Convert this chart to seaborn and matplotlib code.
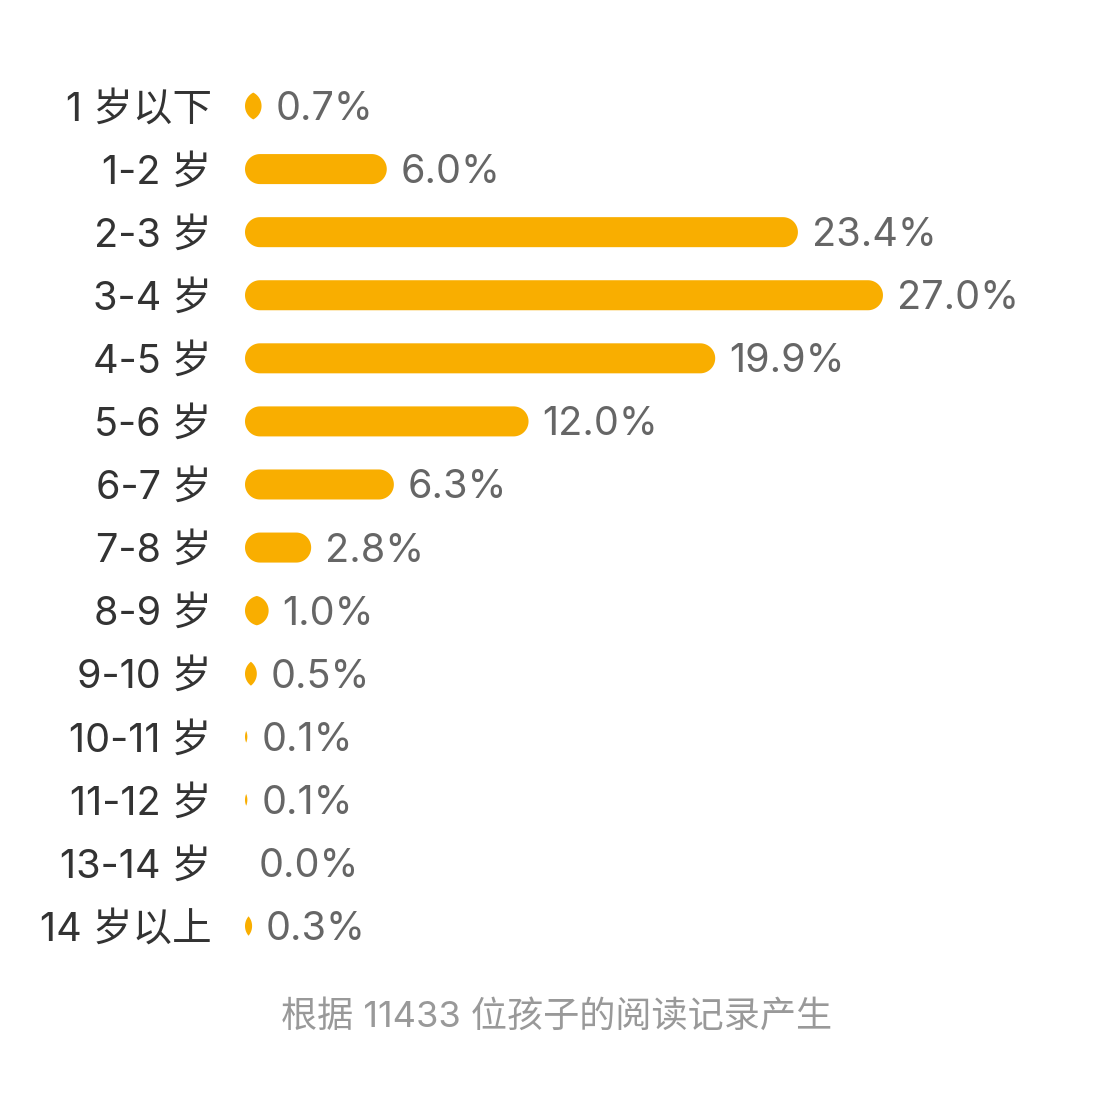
import numpy as np
import pandas as pd
import matplotlib
matplotlib.use("Agg")
import matplotlib.pyplot as plt
from matplotlib.patches import Polygon
import seaborn as sns

# data
age_groups = ['1 岁以下', '1-2 岁', '2-3 岁', '3-4 岁', '4-5 岁', '5-6 岁', '6-7 岁',
              '7-8 岁', '8-9 岁', '9-10 岁', '10-11 岁', '11-12 岁', '13-14 岁', '14 岁以上']
shares = [0.7, 6.0, 23.4, 27.0, 19.9, 12.0, 6.3, 2.8, 1.0, 0.5, 0.1, 0.1, 0.0, 0.3]
footer = '根据 11433 位孩子的阅读记录产生'

bar_color = '#F9AE00'
df = pd.DataFrame({'group': age_groups, 'share': shares})

sns.set_theme(style="white")
# latin glyphs from Inter, chinese falls through to Noto CJK
plt.rcParams['font.family'] = ['Inter', 'Noto Sans CJK SC', 'DejaVu Sans']

W, H = 1095, 1104
fig = plt.figure(figsize=(W / 100, H / 100), dpi=100)
fig.patch.set_facecolor('white')

xmax = 35
row_px = 63.08
ax = fig.add_axes([245 / W, (H - (106 + 13.5 * row_px)) / H, 827 / W, 14 * row_px / H])

sns.barplot(data=df, x='share', y='group', orient='h', color=bar_color,
            width=0.476, ax=ax)
ax.set_xlim(0, xmax)
ax.set_ylim(len(age_groups) - 0.5, -0.5)

# swap the square bars for rounded capsules (lens shape when very short)
sx = 827 / xmax          # pixels per x unit
r_px = 0.476 * row_px / 2
rx = r_px / sx
bars = list(ax.patches)
for p in bars:
    x0, y0, w, h = p.get_x(), p.get_y(), p.get_width(), p.get_height()
    p.remove()
    if w <= 0:
        continue
    yc = y0 + h / 2
    ry = abs(h) / 2
    theta = np.arccos(max(0.0, 1 - w / (2 * rx)))
    cl, cr = x0 + rx, x0 + w - rx
    t1 = np.linspace(-theta, theta, 40)
    t2 = np.linspace(np.pi - theta, np.pi + theta, 40)
    pts = np.concatenate([
        np.column_stack([cr + rx * np.cos(t1), yc + ry * np.sin(t1)]),
        np.column_stack([cl + rx * np.cos(t2), yc + ry * np.sin(t2)]),
    ])
    ax.add_patch(Polygon(pts, closed=True, facecolor=bar_color, edgecolor='none'))

# value labels
for i, v in enumerate(shares):
    ax.annotate(f'{v:.1f}%', xy=(v, i), xytext=(10, -2.5), textcoords='offset points',
                ha='left', va='center', fontsize=28.5, color='#666666',
                annotation_clip=False)

sns.despine(ax=ax, left=True, bottom=True)
ax.set_xticks([])
ax.set_xlabel('')
ax.set_ylabel('')
ax.tick_params(axis='y', length=0, pad=24, labelsize=28.5, labelcolor='#333333')

fig.text(557 / W, 1 - 1017 / H, footer, ha='center', va='center',
         fontsize=26, color='#999999')

fig.savefig('out.png', dpi=100, facecolor='white')
